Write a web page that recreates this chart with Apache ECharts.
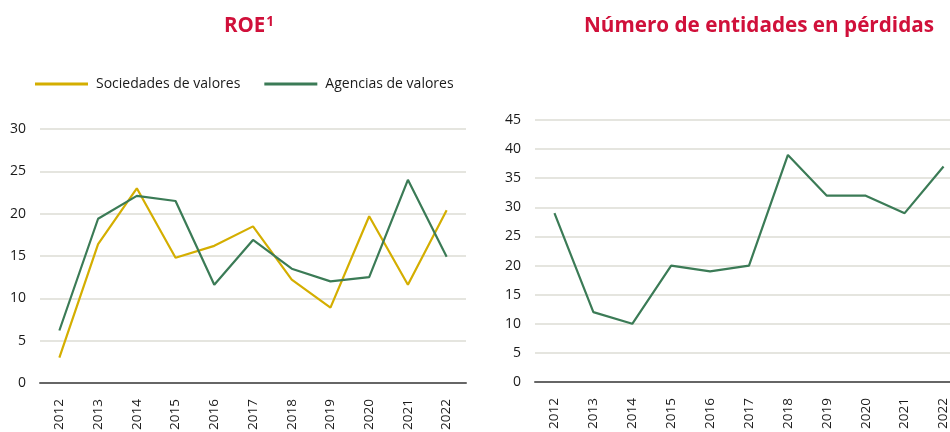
<!DOCTYPE html>
<html lang="es">
<head>
<meta charset="UTF-8">
<title>ROE y entidades en pérdidas</title>
<script src="https://cdn.jsdelivr.net/npm/echarts@6/dist/echarts.min.js"></script>
<style>
  html, body { margin: 0; padding: 0; background: #fff; }
  #main { width: 950px; height: 432px; }
</style>
</head>
<body>
<div id="main"></div>
<script>
// datos
var years = ['2012', '2013', '2014', '2015', '2016', '2017', '2018', '2019', '2020', '2021', '2022'];
var sociedades = [3.0, 16.4, 23.0, 14.8, 16.2, 18.5, 12.2, 8.9, 19.7, 11.6, 20.4];
var agencias = [6.2, 19.4, 22.1, 21.5, 11.6, 16.9, 13.5, 12.0, 12.5, 24.0, 14.9];
var perdidas = [29, 12, 10, 20, 19, 20, 39, 32, 32, 29, 37];

var red = '#d0103a';
var yellow = '#d4ae00';
var green = '#3b7b56';
var font = '"Open Sans", "Noto Sans", sans-serif';

var myChart = echarts.init(document.getElementById('main'));

function xAxisCfg(idx) {
  return {
    type: 'category',
    gridIndex: idx,
    data: years,
    boundaryGap: true,
    axisTick: { show: false },
    axisLine: { lineStyle: { color: '#666', width: 2 } },
    axisLabel: { rotate: 90, color: '#1a1a1a', fontSize: 13.5, fontFamily: font, margin: 16 }
  };
}
function yAxisCfg(idx, max) {
  return {
    type: 'value',
    gridIndex: idx,
    min: 0,
    max: max,
    interval: 5,
    axisLine: { show: false },
    axisTick: { show: false },
    axisLabel: { color: '#1a1a1a', fontSize: 14, fontFamily: font, margin: 14 },
    splitLine: { lineStyle: { color: '#dcdcd4', width: 1.5 } }
  };
}

var option = {
  animation: false,
  textStyle: { fontFamily: font },
  title: [{
    text: '{a|ROE}{b|1}',
    left: 244,
    top: 10,
    textAlign: 'center',
    textStyle: {
      rich: {
        a: { color: red, fontSize: 20.5, fontWeight: 'bold', fontFamily: font },
        b: { color: red, fontSize: 13.5, fontWeight: 'bold', fontFamily: font, verticalAlign: 'top', padding: [0, 0, 8, 1] }
      }
    }
  }, {
    text: 'Número de entidades en pérdidas',
    left: 754,
    top: 11,
    textAlign: 'center',
    textStyle: { color: red, fontSize: 20.7, fontWeight: 'bold', fontFamily: font }
  }],
  legend: {
    left: 30,
    top: 72,
    itemWidth: 53,
    itemHeight: 3,
    itemGap: 24,
    icon: 'rect',
    textStyle: { color: '#1a1a1a', fontSize: 14, fontFamily: font, padding: [0, 0, 0, 3] },
    data: ['Sociedades de valores', 'Agencias de valores']
  },
  grid: [
    { left: 40, top: 129, width: 426, height: 254, outerBoundsMode: 'none' },
    { left: 535, top: 120, width: 428, height: 262, outerBoundsMode: 'none' }
  ],
  xAxis: [xAxisCfg(0), xAxisCfg(1)],
  yAxis: [yAxisCfg(0, 30), yAxisCfg(1, 45)],
  series: [{
    name: 'Sociedades de valores',
    type: 'line',
    xAxisIndex: 0,
    yAxisIndex: 0,
    data: sociedades,
    symbol: 'none',
    color: yellow,
    lineStyle: { color: yellow, width: 2.2 }
  }, {
    name: 'Agencias de valores',
    type: 'line',
    xAxisIndex: 0,
    yAxisIndex: 0,
    data: agencias,
    symbol: 'none',
    color: green,
    lineStyle: { color: green, width: 2.2 }
  }, {
    name: 'Número de entidades en pérdidas',
    type: 'line',
    xAxisIndex: 1,
    yAxisIndex: 1,
    data: perdidas,
    symbol: 'none',
    color: green,
    lineStyle: { color: green, width: 2.2 }
  }]
};

myChart.setOption(option);
</script>
</body>
</html>
